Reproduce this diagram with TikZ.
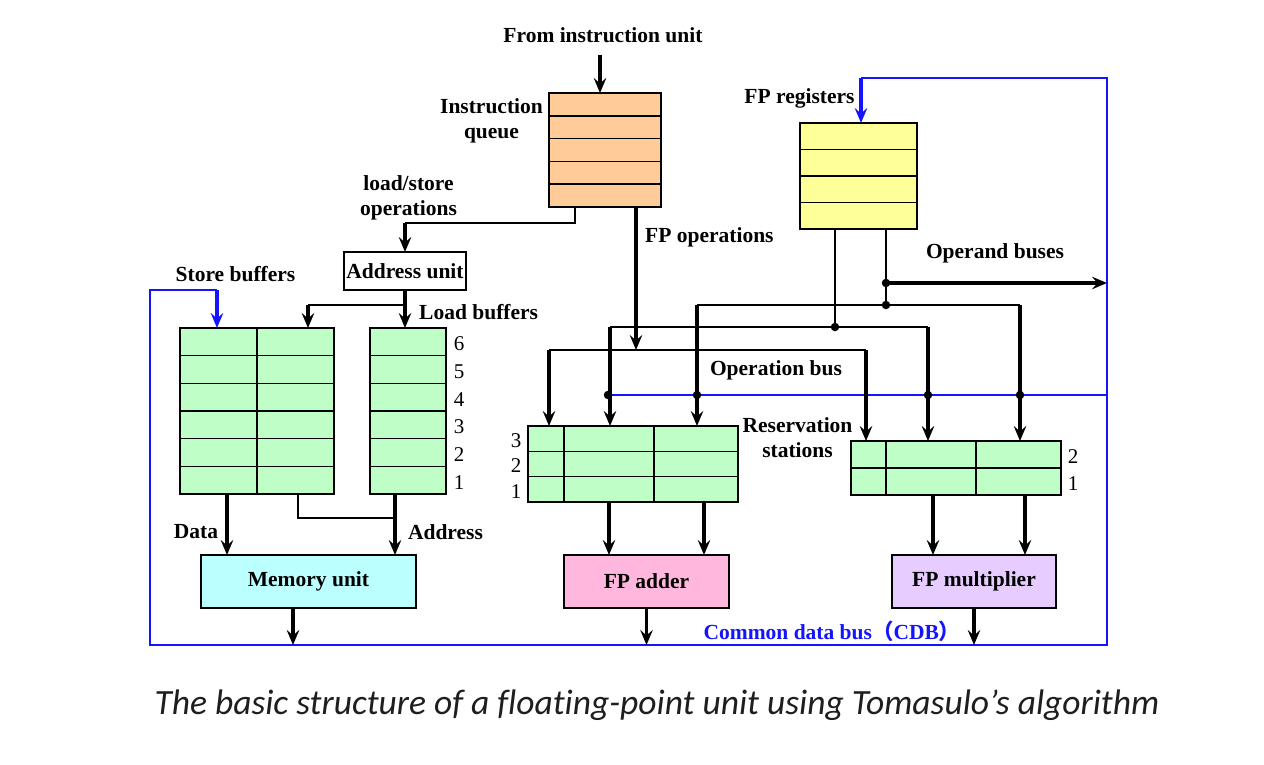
\documentclass[tikz,border=0pt]{standalone}
\usepackage{fontspec}
\setmainfont{Liberation Serif}
\newfontfamily\capfont[Ligatures=NoCommon]{Carlito}
\newfontfamily\cjkfont{Noto Sans CJK SC}
\usetikzlibrary{arrows.meta,calc}
\definecolor{cdbblue}{RGB}{20,20,255}
\definecolor{peach}{RGB}{255,204,153}
\definecolor{regyel}{RGB}{255,255,153}
\definecolor{bufgreen}{RGB}{191,255,199}
\definecolor{memcyan}{RGB}{187,255,255}
\definecolor{addpink}{RGB}{255,183,222}
\definecolor{mullav}{RGB}{230,204,255}
\begin{document}
\begin{tikzpicture}[x=1pt,y=-1pt,
  box/.style={draw,line width=1.6pt,inner sep=0pt,outer sep=0pt},
  boxline/.style={line width=1.6pt},
  lbl/.style={font=\bfseries\fontsize{21.5}{25}\selectfont,inner sep=0pt,align=center},
  num/.style={font=\fontsize{21}{24}\selectfont,inner sep=0pt},
  thinl/.style={line width=2pt},
  arr/.style={line width=3.4pt,-{Stealth[length=15pt,width=12.5pt,inset=5.5pt]}},
  barr/.style={line width=3.4pt,draw=cdbblue,-{Stealth[length=15pt,width=12.5pt,inset=5.5pt]}},
  bline/.style={line width=2pt,draw=cdbblue},
  dot/.style={circle,fill,inner sep=0pt,minimum size=8.5pt}
]
\useasboundingbox (0,0) rectangle (1264,764);

% ---------- boxes ----------
\node[box,fill=peach,minimum width=112pt,minimum height=114pt] (iq) at (605,150) {};
\foreach \k in {1,...,4}
  \draw[boxline] ($(iq.north west)!\k/5!(iq.south west)$) -- ($(iq.north east)!\k/5!(iq.south east)$);

\node[box,fill=regyel,minimum width=117pt,minimum height=106pt] (fpr) at (858.5,176) {};
\foreach \k in {1,...,3}
  \draw[boxline] ($(fpr.north west)!\k/4!(fpr.south west)$) -- ($(fpr.north east)!\k/4!(fpr.south east)$);

\node[box,fill=white,minimum width=122pt,minimum height=38pt,lbl] (au) at (405,271) {Address unit};

\node[box,fill=bufgreen,minimum width=154pt,minimum height=166pt] (sb) at (257,411) {};
\draw[boxline] (sb.north) -- (sb.south);
\foreach \k in {1,...,5}
  \draw[boxline] ($(sb.north west)!\k/6!(sb.south west)$) -- ($(sb.north east)!\k/6!(sb.south east)$);

\node[box,fill=bufgreen,minimum width=76pt,minimum height=166pt] (lb) at (408,411) {};
\foreach \k in {1,...,5}
  \draw[boxline] ($(lb.north west)!\k/6!(lb.south west)$) -- ($(lb.north east)!\k/6!(lb.south east)$);
\foreach \n [count=\i] in {6,5,4,3,2,1}
  \node[num] (lbn\n) at ($(lb.north east)!{(\i-0.5)/6}!(lb.south east)+(13,2)$) {\n};

\node[box,fill=bufgreen,minimum width=210pt,minimum height=76pt] (rsa) at (633,464) {};
\foreach \k in {1,2}
  \draw[boxline] ($(rsa.north west)!\k/3!(rsa.south west)$) -- ($(rsa.north east)!\k/3!(rsa.south east)$);
\draw[boxline] ($(rsa.north west)!0.1714!(rsa.north east)$) -- ($(rsa.south west)!0.1714!(rsa.south east)$);
\draw[boxline] ($(rsa.north west)!0.6!(rsa.north east)$) -- ($(rsa.south west)!0.6!(rsa.south east)$);
\foreach \n [count=\i] in {3,2,1}
  \node[num] (rsan\n) at ($(rsa.north west)!{(\i-0.5)/3}!(rsa.south west)+(-12,2)$) {\n};

\node[box,fill=bufgreen,minimum width=210pt,minimum height=54pt] (rsm) at (956,468) {};
\draw[boxline] (rsm.west) -- (rsm.east);
\draw[boxline] ($(rsm.north west)!0.1667!(rsm.north east)$) -- ($(rsm.south west)!0.1667!(rsm.south east)$);
\draw[boxline] ($(rsm.north west)!0.5952!(rsm.north east)$) -- ($(rsm.south west)!0.5952!(rsm.south east)$);
\foreach \n [count=\i] in {2,1}
  \node[num] (rsmn\n) at ($(rsm.north east)!{(\i-0.5)/2}!(rsm.south east)+(12,2)$) {\n};

\node[box,fill=memcyan,minimum width=215pt,minimum height=53pt,lbl] (mu) at (308.5,581.5) {Memory unit};
\node[box,fill=addpink,minimum width=165pt,minimum height=53pt,lbl] (fa) at (646.5,581.5) {FP adder};
\node[box,fill=mullav,minimum width=164pt,minimum height=53pt,lbl] (fm) at (974,581.5) {FP multiplier};

% ---------- labels ----------
\node[lbl] (tfrom) at (603,35) {From instruction unit};
\node[lbl] (tiq) at (491.5,120.5) {Instruction\\queue};
\node[lbl] (tls) at (408.5,197.5) {load/store\\operations};
\node[lbl,anchor=west] (tfpo) at (645,237) {FP operations};
\node[lbl] (tfpr) at (799.5,98) {FP registers};
\node[lbl] (topd) at (995,253) {Operand buses};
\node[lbl] (tsb) at (235.5,274) {Store buffers};
\node[lbl,anchor=west] (tlb) at (419,312) {Load buffers};
\node[lbl] (tob) at (776,370) {Operation bus};
\node[lbl] (trs) at (797.5,438) {Reservation\\stations};
\node[lbl] (tdata) at (196,532) {Data};
\node[lbl] (taddr) at (445.5,532) {Address};
\node[lbl,text=cdbblue] (tcdb) at (832,631) {Common data bus{\cjkfont （}CDB{\cjkfont ）}};
\node[font=\capfont\itshape\fontsize{35.5}{40}\selectfont,text={rgb,255:red,30;green,30;blue,30},inner sep=0pt] (tcap) at (657,705) {The basic structure of a floating-point unit using Tomasulo’s algorithm};

% ---------- coordinates ----------
\coordinate (src) at (600,55);
\coordinate (ls1) at (575,223);
\coordinate (ls2) at (405,223);
\coordinate (ab1) at (405,305);
\coordinate (ab2) at (308,305);
\coordinate (fpo) at (636,350);
\coordinate (ob1) at (549,350);
\coordinate (ob2) at (866,350);
\coordinate (r1) at (835,327);
\coordinate (r2) at (886,305);
\coordinate (r3) at (886,283);
\coordinate (ra1) at (610,327);
\coordinate (rm1) at (928,327);
\coordinate (ra2) at (697,305);
\coordinate (rm2) at (1020,305);
\coordinate (cdbTL) at (150,290);
\coordinate (cdbBL) at (150,645);
\coordinate (cdbBR) at (1107,645);
\coordinate (cdbTR) at (1107,78);
\coordinate (cdbF) at (861,78);
\coordinate (cdbS) at (217,290);
\coordinate (blueL) at (608,395);
\coordinate (dsb) at (227,494);
\coordinate (asb) at (298,518);
\coordinate (alb) at (395,518);
\coordinate (fa1) at (609,0);
\coordinate (fa2) at (704,0);
\coordinate (fm1) at (933,0);
\coordinate (fm2) at (1025,0);
\coordinate (muo) at (293,0);

% ---------- CDB (blue) ----------
\draw[bline] (cdbS) -- (cdbTL) -- (cdbBL) -- (cdbBR) -- (cdbTR) -- (cdbF);
\draw[barr] (cdbF) -- (cdbF |- fpr.north);
\draw[barr] (cdbS) -- (cdbS |- sb.north);
\draw[bline] (blueL) -- (blueL -| cdbTR);

% ---------- instruction queue outputs ----------
\draw[arr] (src) -- (src |- iq.north);
\draw[thinl] (iq.south -| ls1) -- (ls1) -- (ls2);
\draw[arr] (ls2) -- (au.north);
\draw[arr] (iq.south -| fpo) -- (fpo);
\draw[arr] (au.south) -- (au.south |- lb.north);
\draw[thinl] (ab1) -- (ab2);
\draw[arr] (ab2) -- (ab2 |- sb.north);

% ---------- operation bus ----------
\draw[thinl] (ob1) -- (ob2);
\draw[arr] (ob1) -- (ob1 |- rsa.north);
\draw[arr] (ob2) -- (ob2 |- rsm.north);

% ---------- operand buses ----------
\draw[thinl] (fpr.south -| r1) -- (r1);
\draw[thinl] (fpr.south -| r2) -- (r2);
\draw[arr] (r3) -- (r3 -| cdbTR);
\draw[thinl] (ra1) -- (rm1);
\draw[thinl] (ra2) -- (rm2);
\draw[arr] (ra1) -- (ra1 |- rsa.north);
\draw[arr] (ra2) -- (ra2 |- rsa.north);
\draw[arr] (rm1) -- (rm1 |- rsm.north);
\draw[arr] (rm2) -- (rm2 |- rsm.north);
\node[dot] (d1) at (r1) {};
\node[dot] (d2) at (r2) {};
\node[dot] (d3) at (r3) {};
\node[dot] (d4) at (blueL) {};
\node[dot] (d5) at (ra2 |- blueL) {};
\node[dot] (d6) at (rm1 |- blueL) {};
\node[dot] (d7) at (rm2 |- blueL) {};

% ---------- buffers to memory ----------
\draw[arr] (dsb |- sb.south) -- (dsb |- mu.north);
\draw[thinl] (asb |- sb.south) -- (asb) -- (alb);
\draw[arr] (alb |- lb.south) -- (alb |- mu.north);

% ---------- reservation stations to units ----------
\draw[arr] (fa1 |- rsa.south) -- (fa1 |- fa.north);
\draw[arr] (fa2 |- rsa.south) -- (fa2 |- fa.north);
\draw[arr] (fm1 |- rsm.south) -- (fm1 |- fm.north);
\draw[arr] (fm2 |- rsm.south) -- (fm2 |- fm.north);

% ---------- units to CDB ----------
\draw[arr] (muo |- mu.south) -- (muo |- cdbBL);
\draw[arr] (fa.south) -- (fa.south |- cdbBL);
\draw[arr] (fm.south) -- (fm.south |- cdbBL);
\end{tikzpicture}
\end{document}
